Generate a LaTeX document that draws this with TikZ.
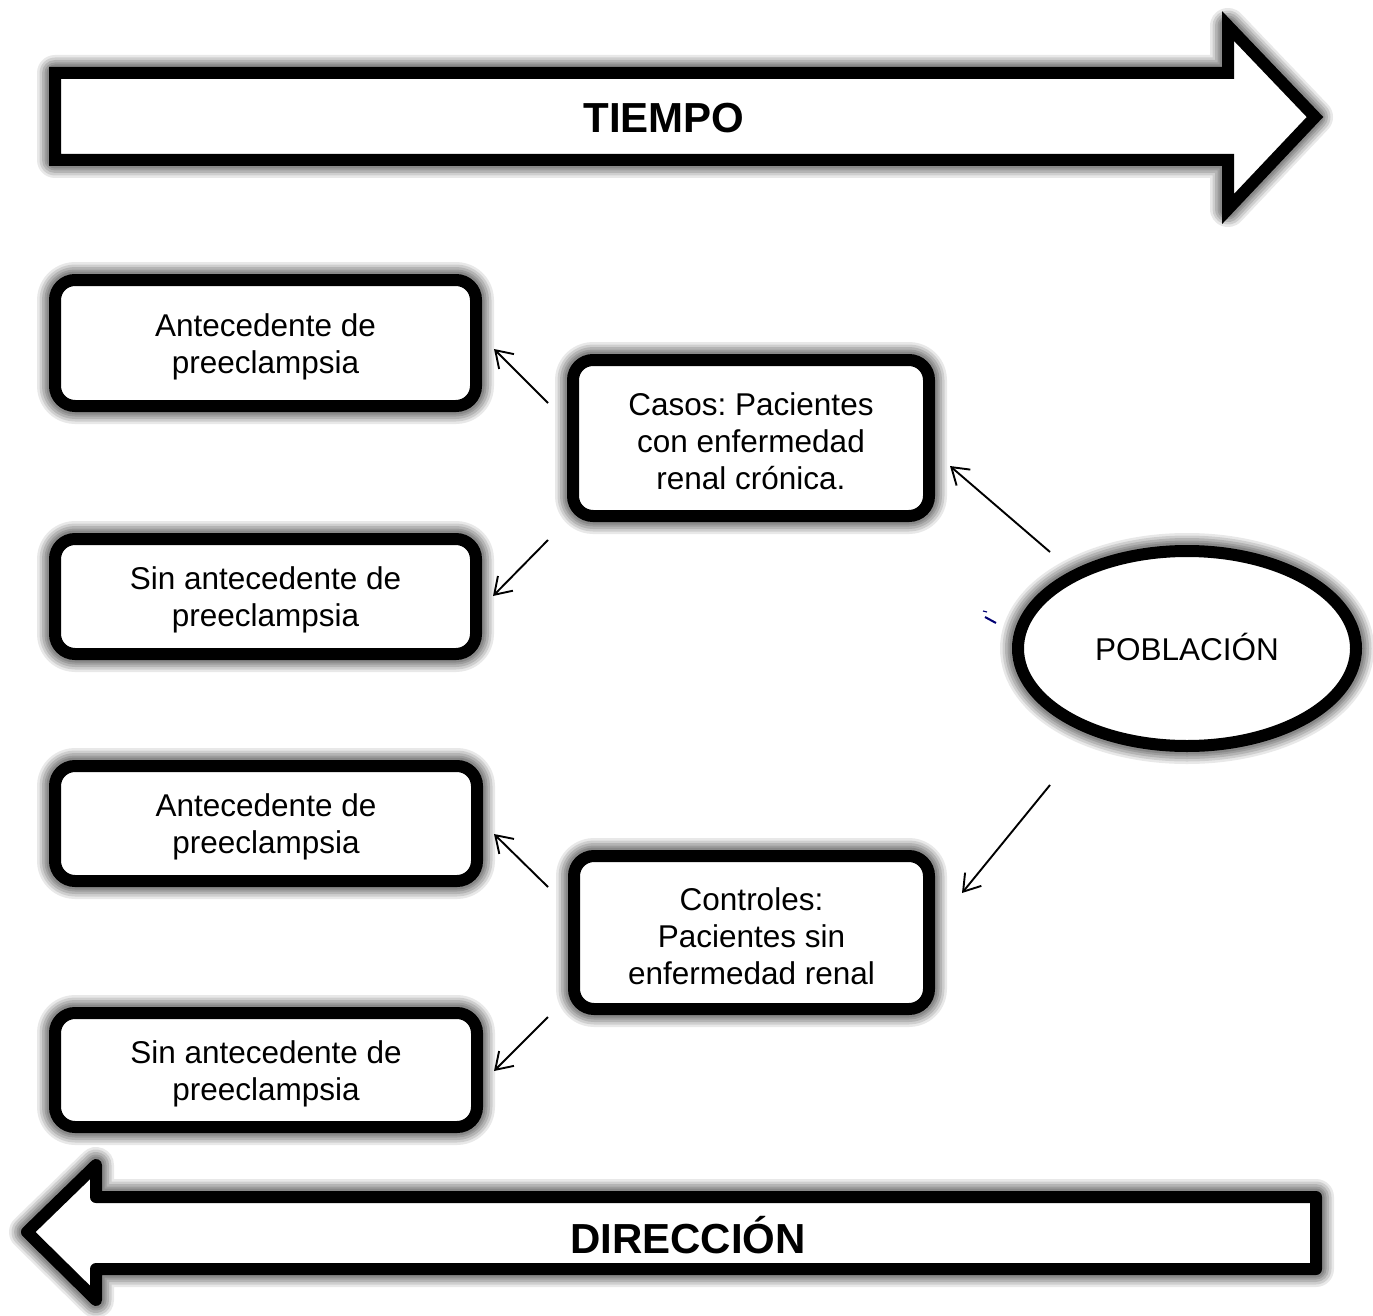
\documentclass[tikz,border=0pt]{standalone}
\usepackage{fontspec}
\setmainfont{Liberation Sans}
\usetikzlibrary{arrows.meta,shapes.geometric}
\frenchspacing
\newcommand\mystrut{\rule{0pt}{30pt}}
\tikzset{
  glow/.style={
    preaction={draw=black!60, line width=36pt, opacity=0.15, line join=round},
    preaction={draw=black!60, line width=31pt, opacity=0.2, line join=round},
    preaction={draw=black!60, line width=26pt, opacity=0.25, line join=round},
    preaction={draw=black!60, line width=21pt, opacity=0.3, line join=round},
    preaction={draw=black!60, line width=17pt, opacity=0.35, line join=round}},
  boxtxt/.style={font=\fontsize{31.5}{37}\selectfont},
  box/.style={glow, draw=black, line width=12pt, fill=white, rounded corners=20pt,
    inner sep=0pt, align=center, boxtxt},
  oval/.style={glow, ellipse, draw=black, line width=12pt, fill=white, inner sep=0pt,
    minimum width=338pt, minimum height=195pt, text depth=4pt, boxtxt},
  bigarrow/.style={glow, draw=black, line width=12pt, fill=white},
  bigtext/.style={font=\fontsize{42}{48}\selectfont\bfseries, anchor=base},
  conn/.style={draw=black, line width=1.9pt, -{Straight Barb[length=16pt,width=21pt,line width=1.9pt]}}
}
\begin{document}
\begin{tikzpicture}[x=1pt,y=-1pt]
\useasboundingbox (0,0) rectangle (1373,1316);

% big arrows
\draw[bigarrow, line join=miter] (55,73) -- (1228,73) -- (1228,26) -- (1315,117) -- (1228,209) -- (1228,160) -- (55,160) -- cycle;
\node[bigtext] (tiempo) at (664,133) {TIEMPO};

\draw[bigarrow, line join=round] (1316,1197) -- (96,1197) -- (96,1165) -- (27,1232) -- (96,1300) -- (96,1269) -- (1316,1269) -- cycle;
\node[bigtext] (direccion) at (688,1253) {DIRECCIÓN};

% boxes
\node[box, minimum width=421pt, minimum height=126pt] (b1) at (265.5,343) {\mystrut Antecedente de\\preeclampsia};
\node[box, minimum width=421pt, minimum height=115pt] (b2) at (265.5,596.5) {\mystrut Sin antecedente de\\preeclampsia};
\node[box, minimum width=422pt, minimum height=115pt] (b3) at (266,823.5) {\mystrut Antecedente de\\preeclampsia};
\node[box, minimum width=422pt, minimum height=114pt] (b4) at (266,1070) {\mystrut Sin antecedente de\\preeclampsia};
\node[box, minimum width=356pt, minimum height=156pt] (casos) at (751,438) {\mystrut Casos: Pacientes\\con enfermedad\\renal crónica.};
\node[box, minimum width=355pt, minimum height=153pt] (controles) at (751.5,932.5) {\mystrut Controles:\\Pacientes sin\\enfermedad renal};
\node[oval] (poblacion) at (1187,648.5) {POBLACIÓN};

% connector end points
\coordinate (a1s) at (548,403); \coordinate (a1e) at (494,349);
\coordinate (a2s) at (548,540); \coordinate (a2e) at (493,596);
\coordinate (a3s) at (1050,552); \coordinate (a3e) at (950,466);
\coordinate (a4s) at (1050,785); \coordinate (a4e) at (962,893);
\coordinate (a5s) at (548,887); \coordinate (a5e) at (494,834);
\coordinate (a6s) at (548,1017); \coordinate (a6e) at (494,1071);

\draw[conn] (a1s) -- (a1e);
\draw[conn] (a2s) -- (a2e);
\draw[conn] (a3s) -- (a3e);
\draw[conn] (a4s) -- (a4e);
\draw[conn] (a5s) -- (a5e);
\draw[conn] (a6s) -- (a6e);

% small stray mark
\coordinate (m1) at (985,617); \coordinate (m2) at (996,623);
\draw[blue!45!black, line width=2pt] (m1) -- (m2);
\coordinate (m3) at (983,611); \coordinate (m4) at (987,612);
\draw[blue!45!black, line width=1.2pt] (m3) -- (m4);
\end{tikzpicture}
\end{document}
